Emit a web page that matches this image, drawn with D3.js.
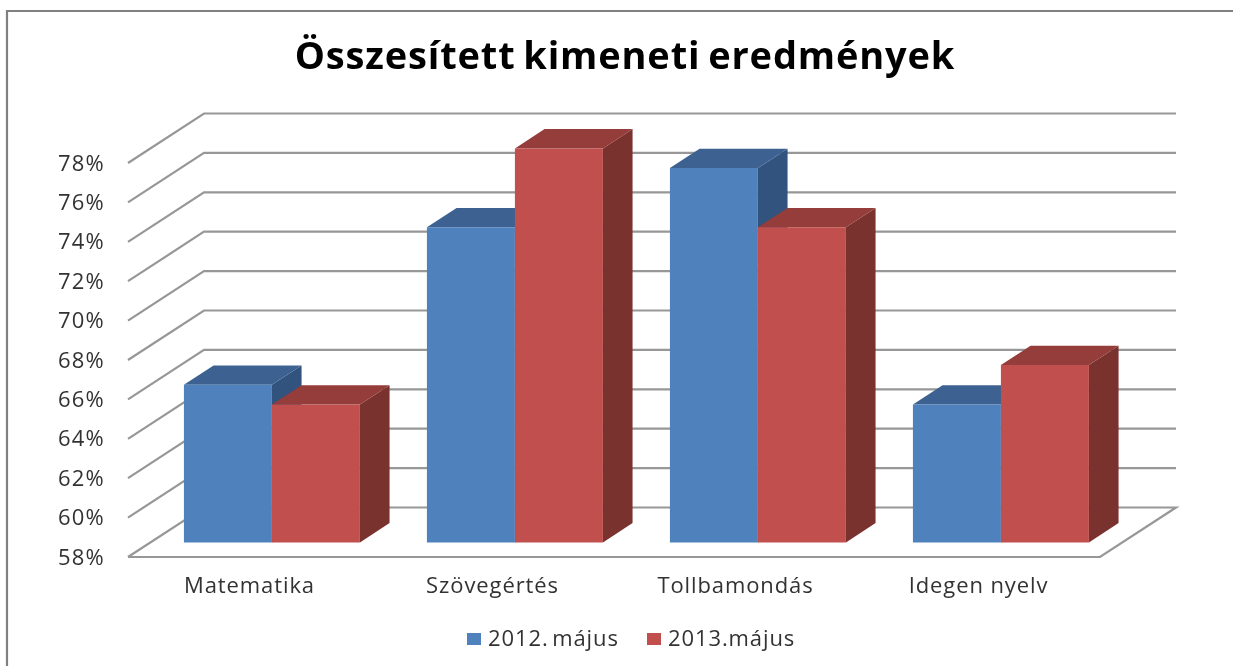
<!DOCTYPE html>
<html>
<head>
<meta charset="utf-8">
<script src="https://cdn.jsdelivr.net/npm/d3@7"></script>
<style>
  html, body { margin: 0; padding: 0; background: #fff; }
  svg { display: block; }
  text { font-family: "Open Sans", sans-serif; }
</style>
</head>
<body>
<div id="chart"></div>
<script>
var width = 1233,
  height = 666;

var categories = ["Matematika", "Szövegértés", "Tollbamondás", "Idegen nyelv"];
var seriesNames = ["2012. május", "2013.május"];
var values2012 = [66, 74, 77, 65];
var values2013 = [65, 78, 74, 67];
var yTicks = [58, 60, 62, 64, 66, 68, 70, 72, 74, 76, 78];

var colors = {
  "2012. május": { front: "#4f81bd", top: "#3c6291", side: "#30527d" },
  "2013.május": { front: "#c0504d", top: "#943d3a", side: "#7a302e" }
};

var svg = d3.select("#chart")
  .append("svg")
  .attr("width", width)
  .attr("height", height)
  .attr("viewBox", [0, 0, width, height]);

// soft edges, the reference is a scaled up screenshot
var blur = svg.append("defs").append("filter")
  .attr("id", "soft")
  .attr("filterUnits", "userSpaceOnUse")
  .attr("x", 0).attr("y", 0)
  .attr("width", width).attr("height", height);
blur.append("feGaussianBlur").attr("stdDeviation", 0.7);

var root = svg.append("g").attr("filter", "url(#soft)");

// frame, only top and left are visible
root.append("path")
  .attr("d", d3.line()([[7, 666], [7, 11], [1233, 11]]))
  .attr("fill", "none")
  .attr("stroke", "#808080")
  .attr("stroke-width", 2.2);

root.append("text")
  .attr("x", 625)
  .attr("y", 69)
  .attr("text-anchor", "middle")
  .attr("font-size", 38)
  .attr("font-weight", 700)
  .attr("letter-spacing", 0.85)
  .attr("word-spacing", -3)
  .attr("fill", "#000")
  .text("Összesített kimeneti eredmények");

// front plane of the 3d box
var x = d3.scaleBand().domain(categories).range([128, 1100]);
var y = d3.scaleLinear().domain([58, 78]).range([557, 163]);
var depth = d3.scaleLinear().domain([0, 1]).range([0, 76]);
var rise = d3.scaleLinear().domain([0, 1]).range([0, 49.5]);

// bars sit between these depths inside the box
var barZ0 = 0.295,
  barZ1 = 0.685;

var barX = d3.scaleBand()
  .domain(seriesNames)
  .range([x.bandwidth() / 2 - 88, x.bandwidth() / 2 + 88]);

function project(px, value, z) {
  return [px + depth(z), y(value) - rise(z)];
}

var line = d3.line();

// walls and floor
var grid = root.append("g")
  .attr("fill", "none")
  .attr("stroke", "#979797")
  .attr("stroke-width", 2.2);

grid.selectAll("path")
  .data(yTicks)
  .enter().append("path")
  .attr("d", function (d) {
    var pts = [project(128, d, 0), project(128, d, 1), project(1100, d, 1)];
    if (d == 58) {
      pts.push(project(1100, d, 0));
      pts.push(project(128, d, 0));
    }
    return line(pts);
  });

// one group per category, 2012 first so 2013 covers its side
var groups = root.selectAll(".cat")
  .data(categories)
  .enter().append("g")
  .attr("class", "cat");

groups.each(function (cat, i) {
  var g = d3.select(this);
  [[seriesNames[0], values2012[i]], [seriesNames[1], values2013[i]]].forEach(function (s) {
    var c = colors[s[0]];
    var x0 = x(cat) + barX(s[0]);
    var x1 = x0 + barX.bandwidth();
    var v = s[1];

    g.append("path")
      .attr("fill", c.side)
      .attr("d", line([project(x1, 58, barZ0), project(x1, 58, barZ1), project(x1, v, barZ1), project(x1, v, barZ0)]) + "Z");
    g.append("path")
      .attr("fill", c.top)
      .attr("d", line([project(x0, v, barZ0), project(x1, v, barZ0), project(x1, v, barZ1), project(x0, v, barZ1)]) + "Z");
    g.append("path")
      .attr("fill", c.front)
      .attr("d", line([project(x0, 58, barZ0), project(x1, 58, barZ0), project(x1, v, barZ0), project(x0, v, barZ0)]) + "Z");
  });
});

// axes
var yAxis = d3.axisLeft(y)
  .tickValues(yTicks)
  .tickSize(0)
  .tickPadding(23)
  .tickFormat(function (d) { return d + "%"; });

var xAxis = d3.axisBottom(x)
  .tickSize(0)
  .tickPadding(20);

root.append("g")
  .attr("transform", "translate(128,0)")
  .call(yAxis)
  .call(function (g) { g.select(".domain").remove(); })
  .selectAll("text")
  .attr("font-size", 22)
  .attr("letter-spacing", 1.2)
  .attr("font-family", "Open Sans")
  .attr("fill", "#333");

root.append("g")
  .attr("transform", "translate(0,557)")
  .call(xAxis)
  .call(function (g) { g.select(".domain").remove(); })
  .selectAll("text")
  .attr("font-size", 22)
  .attr("letter-spacing", 0.9)
  .attr("font-family", "Open Sans")
  .attr("fill", "#333");

// legend
var legend = root.selectAll(".legend")
  .data(seriesNames)
  .enter().append("g")
  .attr("class", "legend")
  .attr("transform", function (d, i) { return "translate(" + [467, 647][i] + ",633)"; });

legend.append("rect")
  .attr("width", 14)
  .attr("height", 12)
  .attr("fill", function (d) { return colors[d].front; });

legend.append("text")
  .attr("x", 21)
  .attr("y", 13)
  .attr("font-size", 22)
  .attr("letter-spacing", 0.9)
  .attr("word-spacing", -3)
  .attr("fill", "#333")
  .text(function (d) { return d; });
</script>
</body>
</html>
